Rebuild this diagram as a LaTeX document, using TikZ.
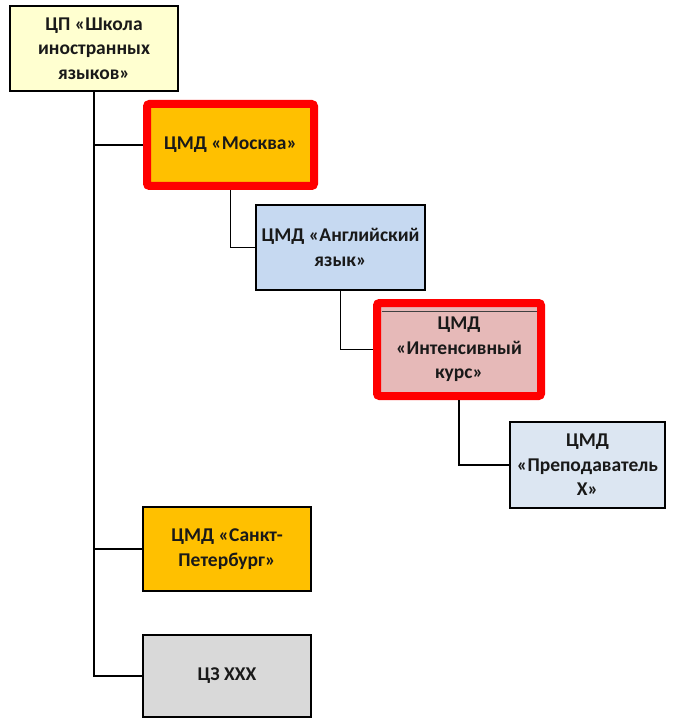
\documentclass[tikz,border=0pt]{standalone}
\usepackage{fontspec}
\setmainfont{Carlito}
\definecolor{cpfill}{HTML}{FFFFD0}
\definecolor{orangefill}{HTML}{FFC000}
\definecolor{bluefill}{HTML}{C6D9F1}
\definecolor{pinkfill}{HTML}{E6B9B8}
\definecolor{paleblue}{HTML}{DCE6F2}
\definecolor{grayfill}{HTML}{D9D9D9}
\definecolor{hilite}{HTML}{FF0000}
\begin{document}
\begin{tikzpicture}[x=1pt,y=-1pt,
  unit/.style={draw=black, line width=1.6pt, align=center, inner sep=1pt,
    font=\fontsize{19.5}{24.5}\selectfont\bfseries, text=black!90},
  marked/.style={unit, draw=hilite, line width=8pt, rounded corners=2.5pt},
  link/.style={draw=black, line width=1.6pt}]
\useasboundingbox (0,0) rectangle (675,719);

% root
\node[unit, fill=cpfill, minimum width=168pt, minimum height=85pt] (root) at (94,48.5)
  {ЦП «Школа\\иностранных\\языков»};

% chain of subordinate units
\node[marked, fill=orangefill, minimum width=167pt, minimum height=82pt] (msk) at (230.5,145)
  {ЦМД «Москва»};
\node[unit, fill=bluefill, minimum width=169pt, minimum height=85pt] (eng) at (340.5,247.5)
  {ЦМД «Английский\\язык»};
\node[marked, fill=pinkfill, minimum width=164pt, minimum height=93pt] (int) at (459,349.5)
  {ЦМД\\«Интенсивный\\курс»};
\draw[black!75, line width=1pt] (381.5,311) -- (537,311);
\node[unit, fill=paleblue, minimum width=155pt, minimum height=86pt] (tch) at (587.5,465)
  {ЦМД\\«Преподаватель\\Х»};

% other units under the root
\node[unit, fill=orangefill, minimum width=168pt, minimum height=84pt] (spb) at (227,549)
  {ЦМД «Санкт-\\Петербург»};
\node[unit, fill=grayfill, minimum width=168pt, minimum height=82pt] (cz) at (227,676)
  {ЦЗ ХХХ};

% connectors
\draw[link] (root.south) |- (cz.west);
\draw[link] (root.south |- msk.west) -- (msk.west);
\draw[link] (root.south |- spb.west) -- (spb.west);
\draw[link] (msk.south) |- (eng.west);
\draw[link] (eng.south) |- (int.west);
\draw[link] (int.south) |- (tch.west);
\end{tikzpicture}
\end{document}
